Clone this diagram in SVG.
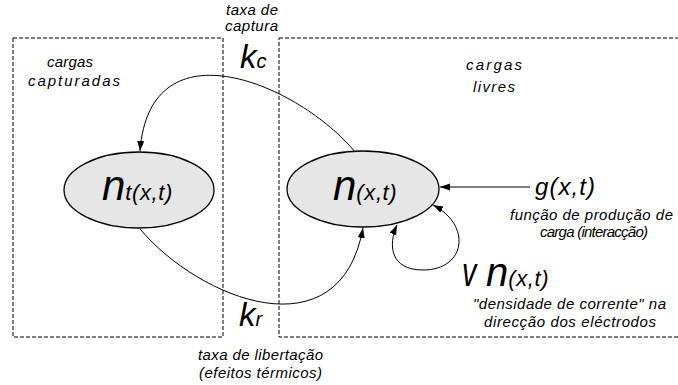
<svg xmlns="http://www.w3.org/2000/svg" width="678" height="385" viewBox="0 0 678 385">
<defs>
<style>
text{font-family:"Liberation Sans",Arial,sans-serif;font-style:italic;fill:#000}
.lbl{font-size:15px}
.big{font-size:42px}
.sub{font-size:22px;letter-spacing:0.6px}
.box{fill:none;stroke:#000;stroke-width:1;stroke-dasharray:4,2}
.node{fill:#e6e6e6;stroke:#000;stroke-width:1.3}
.edge{fill:none;stroke:#000;stroke-width:1}
</style>
<marker id="ah" markerUnits="userSpaceOnUse" markerWidth="11" markerHeight="8" refX="10" refY="3.5" orient="auto-start-reverse">
<path d="M0,0 L10,3.5 L0,7 z" fill="#000"/>
</marker>
</defs>
<rect width="678" height="385" fill="#fff"/>
<g id="regions">
<rect class="box" x="13" y="38" width="210" height="299"/>
<rect class="box" x="279" y="38" width="410" height="299"/>
</g>
<g id="labels">
<text class="lbl" x="226" y="15" textLength="52">taxa de</text>
<text class="lbl" x="225" y="31" textLength="53">captura</text>
<text x="240" y="68" style="font-size:33px">k<tspan style="font-size:20px">c</tspan></text>
<text class="lbl" x="47" y="67" textLength="46">cargas</text>
<text class="lbl" x="28" y="86" textLength="92">capturadas</text>
<text class="lbl" x="466" y="70" textLength="56">cargas</text>
<text class="lbl" x="473" y="92" textLength="42">livres</text>
<text x="239" y="326" style="font-size:33px">k<tspan style="font-size:20px">r</tspan></text>
<text class="lbl" x="198" y="360" textLength="125">taxa de libertação</text>
<text class="lbl" x="199" y="378" textLength="123">(efeitos térmicos)</text>
</g>
<g id="node-nt">
<ellipse class="node" cx="139" cy="190" rx="75" ry="38"/>
<text class="big" x="102" y="200">n<tspan class="sub">t(x,t)</tspan></text>
</g>
<g id="node-n">
<ellipse class="node" cx="363" cy="189" rx="76" ry="38"/>
<text class="big" x="333" y="200">n<tspan class="sub">(x,t)</tspan></text>
</g>
<g id="node-g">
<text x="535" y="195" style="font-size:24px" textLength="60">g(x,t)</text>
<text class="lbl" x="510" y="220" textLength="163">função de produção de</text>
<text class="lbl" x="540" y="237" textLength="108">carga (interacção)</text>
</g>
<g id="node-vn">
<text transform="translate(462,286) scale(0.72,1)" style="font-size:40px">v</text>
<text class="big" x="486" y="286" style="font-size:40px">n<tspan class="sub">(x,t)</tspan></text>
<text class="lbl" x="473" y="309" textLength="193">"densidade de corrente" na</text>
<text class="lbl" x="484" y="327" textLength="172">direcção dos eléctrodos</text>
</g>
<g id="connectors">
<path class="edge" d="M355,152 C300,85 150,20 140,151" marker-end="url(#ah)"/>
<path class="edge" d="M140,229 C200,300 340,355 363,228" marker-end="url(#ah)"/>
<path class="edge" d="M433,205 C472,225 466,270 423,270 C390,270 388,245 397,225" marker-start="url(#ah)" marker-end="url(#ah)"/>
<path class="edge" d="M530,187 L440,187" marker-end="url(#ah)"/>
</g>
</svg>
